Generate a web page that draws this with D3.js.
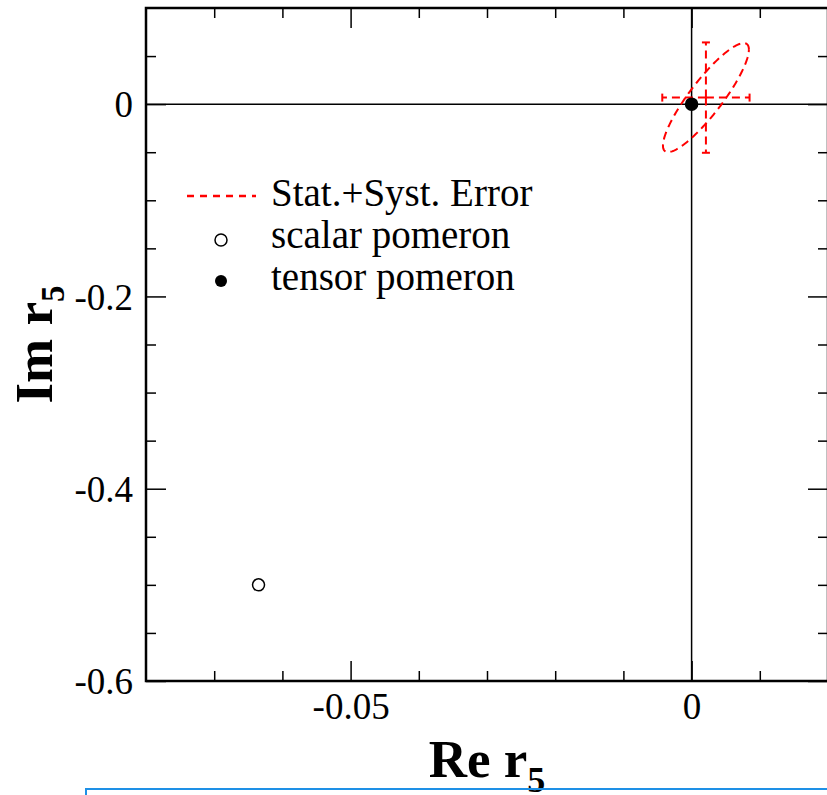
<!DOCTYPE html>
<html>
<head>
<meta charset="utf-8">
<script src="https://d3js.org/d3.v7.min.js"></script>
<style>
body { margin: 0; background: #fff; }
text { font-family: "Liberation Serif", "Times New Roman", serif; fill: #000; }
.axis path { display: none; }
.axis line { stroke: #000; stroke-width: 1.5; }
</style>
</head>
<body>
<svg id="chart"></svg>
<script>
// axis ticks
var xMajor = [-0.05, 0];
var xMinor = [-0.07, -0.06, -0.04, -0.03, -0.02, -0.01, 0.01];
var yMajor = [-0.6, -0.4, -0.2, 0];
var yMinor = [-0.55, -0.5, -0.45, -0.35, -0.3, -0.25, -0.15, -0.1, -0.05, 0.05];

// points
var pointNames = ["tensor pomeron", "scalar pomeron"];
var pointRe = [0, -0.0635];
var pointIm = [0, -0.5];
var pointFilled = [true, false];

// measurement: centre, errors, ellipse
var measCentre = [0.0021, 0.0068];
var measErr = [0.0064, 0.0574];
var ellSigma = [0.0063, 0.0567];
var ellRho = 0.88;

var legendLabels = ["Stat.+Syst. Error", "scalar pomeron", "tensor pomeron"];

var W = 827, H = 795;
var plotL = 146, plotR = 828, plotT = 8, plotB = 681;

var svg = d3.select("#chart").attr("width", W).attr("height", H);

var x = d3.scaleLinear().domain([-0.08, 0.02]).range([plotL, plotR]);
var y = d3.scaleLinear().domain([-0.6, 0.1]).range([plotB, plotT]);

// zero lines
svg.append("line").attr("x1", x(0)).attr("x2", x(0)).attr("y1", plotT).attr("y2", plotB)
  .attr("stroke", "#000").attr("stroke-width", 1.5);
svg.append("line").attr("x1", plotL).attr("x2", plotR).attr("y1", y(0)).attr("y2", y(0))
  .attr("stroke", "#000").attr("stroke-width", 1.5);

function fmt(d) { return d === 0 ? "0" : String(d); }

// bottom axis
svg.append("g").attr("class", "axis").attr("transform", "translate(0," + plotB + ")")
  .call(d3.axisBottom(x).tickValues(xMajor).tickSizeInner(-20).tickSizeOuter(0).tickPadding(0).tickFormat(fmt))
  .selectAll("text").style("font-size", "37px").attr("y", 38).attr("dy", 0);
svg.append("g").attr("class", "axis").attr("transform", "translate(0," + plotB + ")")
  .call(d3.axisBottom(x).tickValues(xMinor).tickSizeInner(-10).tickSizeOuter(0).tickFormat(""));
// top axis
svg.append("g").attr("class", "axis").attr("transform", "translate(0," + plotT + ")")
  .call(d3.axisTop(x).tickValues(xMajor).tickSizeInner(-20).tickSizeOuter(0).tickFormat(""));
svg.append("g").attr("class", "axis").attr("transform", "translate(0," + plotT + ")")
  .call(d3.axisTop(x).tickValues(xMinor).tickSizeInner(-10).tickSizeOuter(0).tickFormat(""));
// left axis
svg.append("g").attr("class", "axis").attr("transform", "translate(" + plotL + ",0)")
  .call(d3.axisLeft(y).tickValues(yMajor).tickSizeInner(-20).tickSizeOuter(0).tickPadding(0).tickFormat(fmt))
  .selectAll("text").style("font-size", "37px").attr("x", -13).attr("dy", "0.34em");
svg.append("g").attr("class", "axis").attr("transform", "translate(" + plotL + ",0)")
  .call(d3.axisLeft(y).tickValues(yMinor).tickSizeInner(-10).tickSizeOuter(0).tickFormat(""));
// right axis
svg.append("g").attr("class", "axis").attr("transform", "translate(" + plotR + ",0)")
  .call(d3.axisRight(y).tickValues(yMajor).tickSizeInner(-20).tickSizeOuter(0).tickFormat(""));
svg.append("g").attr("class", "axis").attr("transform", "translate(" + plotR + ",0)")
  .call(d3.axisRight(y).tickValues(yMinor).tickSizeInner(-10).tickSizeOuter(0).tickFormat(""));

// frame
svg.append("rect").attr("x", plotL).attr("y", plotT).attr("width", plotR - plotL).attr("height", plotB - plotT)
  .attr("fill", "none").attr("stroke", "#000").attr("stroke-width", 2.5);

// error ellipse
var delta = Math.acos(ellRho);
var ts = d3.range(0, 2 * Math.PI + 0.001, Math.PI / 90);
var ell = ts.map(function(t) {
  return [measCentre[0] + ellSigma[0] * Math.cos(t), measCentre[1] + ellSigma[1] * Math.cos(t - delta)];
});
svg.append("path").datum(ell)
  .attr("d", d3.line().x(function(d) { return x(d[0]); }).y(function(d) { return y(d[1]); }))
  .attr("fill", "none").attr("stroke", "#ff0000").attr("stroke-width", 2).attr("stroke-dasharray", "8,5");

// error bars drawn from centre outwards
var cx = x(measCentre[0]), cy = y(measCentre[1]);
var bars = [
  [measCentre[0] - measErr[0], measCentre[1]], [measCentre[0] + measErr[0], measCentre[1]],
  [measCentre[0], measCentre[1] - measErr[1]], [measCentre[0], measCentre[1] + measErr[1]]
];
svg.selectAll(".ebar").data(bars).enter().append("line").attr("class", "ebar")
  .attr("x1", cx).attr("y1", cy)
  .attr("x2", function(d) { return x(d[0]); }).attr("y2", function(d) { return y(d[1]); })
  .attr("stroke", "#ff0000").attr("stroke-width", 2).attr("stroke-dasharray", "8,5");
svg.selectAll(".ecap").data(bars).enter().append("line").attr("class", "ecap")
  .attr("x1", function(d, i) { return i < 2 ? x(d[0]) : x(d[0]) - 4; })
  .attr("x2", function(d, i) { return i < 2 ? x(d[0]) : x(d[0]) + 4; })
  .attr("y1", function(d, i) { return i < 2 ? y(d[1]) - 4 : y(d[1]); })
  .attr("y2", function(d, i) { return i < 2 ? y(d[1]) + 4 : y(d[1]); })
  .attr("stroke", "#ff0000").attr("stroke-width", 2);

// points
svg.selectAll(".pt").data(pointRe).enter().append("circle").attr("class", "pt")
  .attr("cx", function(d) { return x(d); })
  .attr("cy", function(d, i) { return y(pointIm[i]); })
  .attr("r", 6)
  .attr("fill", function(d, i) { return pointFilled[i] ? "#000" : "#fff"; })
  .attr("stroke", "#000").attr("stroke-width", 1.5);

// legend
var lg = svg.append("g");
lg.append("line").attr("x1", 187).attr("x2", 256).attr("y1", 196).attr("y2", 196)
  .attr("stroke", "#ff0000").attr("stroke-width", 2.5).attr("stroke-dasharray", "7,6");
lg.append("circle").attr("cx", 221).attr("cy", 240).attr("r", 6)
  .attr("fill", "#fff").attr("stroke", "#000").attr("stroke-width", 1.5);
lg.append("circle").attr("cx", 221).attr("cy", 281).attr("r", 6).attr("fill", "#000");
lg.selectAll("text").data(legendLabels).enter().append("text")
  .attr("x", 271).attr("y", function(d, i) { return 206 + i * 42; })
  .style("font-size", "39px").text(function(d) { return d; });

// axis titles
var xt = svg.append("text").attr("x", (plotL + plotR) / 2).attr("y", 777)
  .attr("text-anchor", "middle").style("font-size", "53px").style("font-weight", "bold");
xt.append("tspan").text("Re r");
xt.append("tspan").attr("dy", 15).style("font-size", "36px").text("5");

var yt = svg.append("text").attr("transform", "translate(52," + (plotT + plotB) / 2 + ") rotate(-90)")
  .attr("text-anchor", "middle").style("font-size", "53px").style("font-weight", "bold");
yt.append("tspan").text("Im r");
yt.append("tspan").attr("dy", 12).style("font-size", "33px").text("5");

// blue box edge at bottom of the page
svg.append("rect").attr("x", 86).attr("y", 789).attr("width", 800).attr("height", 60)
  .attr("fill", "none").attr("stroke", "#1e90e6").attr("stroke-width", 2);
</script>
</body>
</html>
